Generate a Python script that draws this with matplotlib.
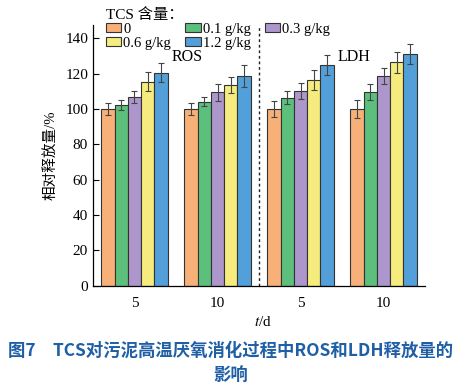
import matplotlib
matplotlib.use("Agg")
import matplotlib.pyplot as plt
import numpy as np
from matplotlib.patches import Patch

groups = ["5", "10", "5", "10"]
labels = ["0", "0.1 g/kg", "0.3 g/kg", "0.6 g/kg", "1.2 g/kg"]
colors = ["#F6B078", "#5CBF7C", "#AC96CB", "#F6EC7E", "#529FD9"]

# values per concentration across groups (ROS 5, ROS 10, LDH 5, LDH 10)
v0   = [100.0, 100.0, 100.0, 100.0]
v01  = [102.3, 104.1, 106.4, 109.4]
v03  = [106.6, 109.4, 110.2, 118.7]
v06  = [115.5, 113.6, 116.4, 126.4]
v12  = [120.6, 118.7, 124.9, 131.2]
e0   = [3.5, 3.5, 4.3, 5.0]
e01  = [3.0, 2.5, 3.6, 4.6]
e03  = [3.5, 4.8, 4.4, 4.4]
e06  = [5.3, 4.4, 5.6, 6.0]
e12  = [5.6, 6.3, 5.5, 5.5]

values = [v0, v01, v03, v06, v12]
errors = [e0, e01, e03, e06, e12]

serif = ["Liberation Serif", "DejaVu Serif"]
cjk = ["Liberation Serif", "Noto Sans CJK SC"]

fig = plt.figure(figsize=(4.61, 3.89), dpi=100)
ax = fig.add_axes([0.2017, 0.266, 0.7203, 0.670])

x = np.arange(len(groups))
w = 0.16
handles = []
for i, (vals, errs) in enumerate(zip(values, errors)):
    pos = x + (i - 2) * w
    ax.bar(pos, vals, width=w, color=colors[i], edgecolor="#333333", linewidth=0.8, zorder=2)
    ax.errorbar(pos, vals, yerr=errs, fmt="none", ecolor="#444444", elinewidth=0.8,
                capsize=2.5, capthick=0.8, zorder=3)
    handles.append(Patch(facecolor=colors[i], edgecolor="#333333", linewidth=0.8, label=labels[i]))

ax.axvline(1.5, color="#222222", linestyle=(0, (2, 2)), linewidth=1.0)
ax.set_xlim(-0.5, 3.5)
ax.set_ylim(0, 147.6)
ax.set_yticks(np.arange(0, 141, 20))
ax.set_xticks(x)
ax.set_xticklabels(groups, fontfamily=serif, fontsize=11)
for t in ax.get_yticklabels():
    t.set_fontfamily(serif)
    t.set_fontsize(11)
ax.tick_params(axis="y", direction="in", length=4, width=0.8)
ax.tick_params(axis="x", length=0, pad=8)
for s in ["top", "right"]:
    ax.spines[s].set_visible(False)
ax.spines["left"].set_linewidth(0.9)
ax.spines["bottom"].set_linewidth(0.9)

ax.text(0.63, 129.5, "ROS", fontfamily=serif, fontsize=11.5, ha="center", va="center")
ax.text(2.64, 129.5, "LDH", fontfamily=serif, fontsize=11.5, ha="center", va="center")

ax.set_ylabel("相对释放量/%", fontfamily=cjk, fontsize=10.5, labelpad=6)
fig.text(0.571, 0.172, r"$t$/d", fontfamily=serif, fontsize=11, ha="center", va="center",
         math_fontfamily="stix")

order = [0, 3, 1, 4, 2]
leg = fig.legend([handles[k] for k in order], [labels[k] for k in order], ncol=3,
                 loc="upper left", bbox_to_anchor=(0.208, 1.005), frameon=False,
                 title="TCS 含量：", prop={"family": serif, "size": 10.5},
                 handlelength=1.05, handleheight=0.6, handletextpad=0.12,
                 columnspacing=1.0, labelspacing=0.05, borderpad=0.2)
leg.get_title().set_fontfamily(cjk)
leg.get_title().set_fontsize(11)
leg._legend_box.align = "left"

cap_color = "#1E5FA6"
fig.text(0.5, 0.098, "图7　TCS对污泥高温厌氧消化过程中ROS和LDH释放量的", fontfamily="Noto Sans CJK SC",
         fontsize=12.5, fontweight="bold", color=cap_color, ha="center", va="center")
fig.text(0.5, 0.035, "影响", fontfamily="Noto Sans CJK SC",
         fontsize=12.5, fontweight="bold", color=cap_color, ha="center", va="center")

fig.savefig("out.png", dpi=100)
